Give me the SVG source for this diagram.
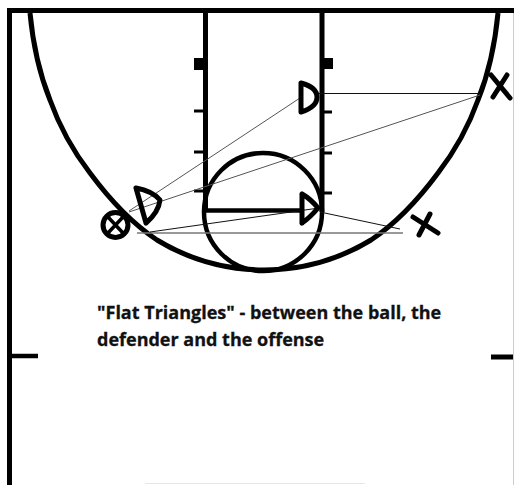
<svg xmlns="http://www.w3.org/2000/svg" width="514" height="485" viewBox="0 0 514 485">
<style>
.k{fill:none;stroke:#000;stroke-linecap:butt}
.m{fill:none;stroke:#000;stroke-width:5;stroke-linecap:round;stroke-linejoin:round}
.t{fill:none;stroke:#111;stroke-width:1}
.g{fill:none;stroke:#555;stroke-width:1}
.l{font-family:"Open Sans","Noto Sans",sans-serif;font-weight:700;font-size:18px;fill:#111;stroke:#111;stroke-width:.3}
</style>
<rect width="514" height="485" fill="#fff"/>
<g id="court">
<path class="k" stroke-width="5" d="M9.500 485V10.500H514"/>
<path class="k" style="stroke:#ccc;stroke-width:1" d="M513.500 13V485"/>
<path class="k" stroke-width="5" d="M30 13C33 45 40 75 50 100C60 128 73 151 90 173C110 200 130 222 157 240C190 260 225 270 264 270C303 270 338 260 371 240C398 222 418 200 438 173C455 151 468 128 478 100C488 75 495 45 498 13"/>
<path class="k" stroke-width="5" d="M205.500 13V212M322 13V212"/>
<circle class="k" stroke-width="4.500" cx="263" cy="212" r="59"/>
<path d="M194 58h11v12h-11zM323 58h10v11h-10z"/>
<path class="k" stroke-width="3" d="M194 111H205M194 152H205M194 191H205M323 112H332M323 153H332M323 193H332"/>
<path class="k" stroke-width="4.500" d="M12 356H38"/>
<path class="k" stroke-width="5" d="M491 357H513"/>
<path class="k" style="stroke:#e6e6e6;stroke-width:1" d="M145 483.500H365"/>
</g>
<g id="connectors">
<path class="k" stroke-width="4.500" d="M205 210.500H303"/>
<path class="g" d="M129 211L300 98"/>
<path class="g" d="M129 212L480 95"/>
<path class="t" d="M317 93.500H480"/>
<path class="g" style="stroke:#777;stroke-width:1.500" d="M137 233H403"/>
<path class="t" d="M150 232L319 208"/>
<path class="t" d="M320 212L400 229"/>
</g>
<g id="defender-top"><path class="m" d="M301 83V112M301 83C312 86 317 91 317 97C317 104 311 109 301 112"/></g>
<g id="defender-post"><path class="m" d="M302 194V223M302 194C309 198 314 203 318 208C313 214 308 219 302 223"/></g>
<g id="defender-wing"><path class="m" d="M136 188L146 223M136 188C147 190 155 194 160 200C159 209 153 217 146 223"/></g>
<g id="ball"><circle class="k" stroke-width="5" cx="115.500" cy="225" r="12.500"/><path class="k" stroke-width="3.500" d="M108 217L123 233M123 217L108 233"/></g>
<g id="offense-top"><path class="m" d="M491 75L510 98M507 75L493 97"/></g>
<g id="offense-low"><path class="m" d="M413 217L438 233M430 214L419 235"/></g>
<g id="caption"><text class="l" x="97" y="319">"Flat Triangles" - between the ball, the</text><text class="l" x="97" y="346">defender and the offense</text></g>
</svg>
